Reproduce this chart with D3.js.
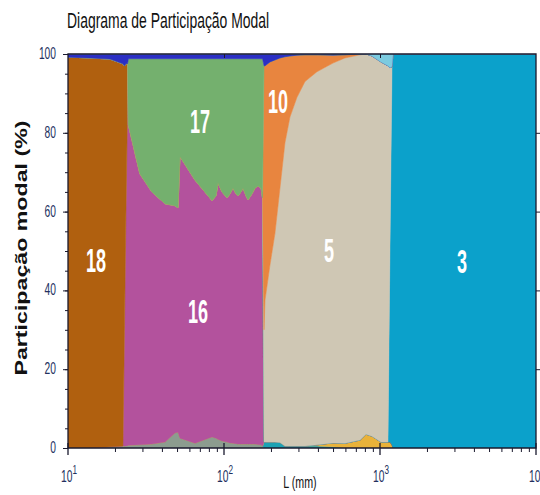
<!DOCTYPE html>
<html>
<head>
<meta charset="utf-8">
<script src="https://cdnjs.cloudflare.com/ajax/libs/d3/7.8.5/d3.min.js"></script>
<style>
  body { margin: 0; background: #fff; }
  svg { display: block; }
</style>
</head>
<body>
<svg id="chart" width="540" height="495"></svg>
<script>
// Comprimento (mm) nos pontos amostrados
const comprimento = [10, 13.8, 18.6, 22.5, 23, 23.5, 24.1, 24.4, 28.9, 34.5,
  41.9, 48.5, 50.7, 52.2, 65.2, 83.8, 88.9, 91.5, 97.1, 104.6,
  109.2, 114.2, 119.4, 122.9, 128.5, 132.4, 138.4, 142.6, 151.1, 158,
  165.2, 172.8, 176.6, 180.5, 183.2, 197.2, 212.2, 228.5, 246, 264.8,
  293.7, 330.6, 394.6, 500, 597, 745, 813, 888, 1014, 1125,
  1159, 1194, 1212, 10000];

// Participação (%) de cada modo, de baixo para cima na pilha
const modoCinza = [0, 0, 0.3, 0.5, 0.5, 0.5, 0.6, 0.7, 0.8, 1,
  1.5, 3.8, 4, 2.5, 1.2, 2.8, 2.5, 2.2, 1.8, 1.5,
  1.3, 1.2, 1.1, 1, 1, 1, 1, 1, 1, 1,
  0.9, 0.8, 0.5, 0, 0, 0, 0, 0, 0, 0,
  0, 0, 0, 0, 0, 0, 0, 0, 0, 0,
  0, 0, 0, 0];
const modoTurquesa = [0, 0, 0, 0, 0, 0, 0, 0, 0, 0,
  0, 0, 0, 0, 0, 0, 0, 0, 0, 0,
  0, 0, 0, 0, 0, 0, 0, 0, 0, 0,
  0, 0, 0, 1.5, 1.5, 1.5, 1.5, 1.4, 0.5, 0.5,
  0.5, 0.5, 0.5, 0.3, 0, 0, 0, 0, 0, 0,
  0, 0, 0, 0];
const modoAmarelo = [0, 0, 0, 0, 0, 0, 0, 0, 0, 0,
  0, 0, 0, 0, 0, 0, 0, 0, 0, 0,
  0, 0, 0, 0, 0, 0, 0, 0, 0, 0,
  0, 0, 0, 0, 0, 0, 0, 0, 0, 0,
  0, 0, 0.3, 1, 1.2, 2, 3.5, 3, 1.5, 1.5,
  1.5, 0.8, 0, 0];
const modo16 = [0, 0, 0, 0, 29, 58, 87, 81.3, 68.8, 64,
  60.5, 57.7, 57, 71.5, 66.8, 60, 61.5, 65.1, 63.2, 62,
  63.2, 64.8, 63.4, 63, 64, 65, 63, 62, 63.5, 65,
  65.6, 65.2, 63, 0, 0, 0, 0, 0, 0, 0,
  0, 0, 0, 0, 0, 0, 0, 0, 0, 0,
  0, 0, 0, 0];
const modo18 = [99.2, 99, 98.4, 97, 67.5, 39, 10, 0, 0, 0,
  0, 0, 0, 0, 0, 0, 0, 0, 0, 0,
  0, 0, 0, 0, 0, 0, 0, 0, 0, 0,
  0, 0, 0, 0, 0, 0, 0, 0, 0, 0,
  0, 0, 0, 0, 0, 0, 0, 0, 0, 0,
  0, 0, 0, 0];
const modo3 = [0, 0, 0, 0, 0, 0, 0, 0, 0, 0,
  0, 0, 0, 0, 0, 0, 0, 0, 0, 0,
  0, 0, 0, 0, 0, 0, 0, 0, 0, 0,
  0, 0, 0, 0, 0, 0, 0, 0, 0, 0,
  0, 0, 0, 0, 0, 0, 0, 0, 0, 0,
  50, 96, 100, 100];
const modo5 = [0, 0, 0, 0, 0, 0, 0, 0, 0, 0,
  0, 0, 0, 0, 0, 0, 0, 0, 0, 0,
  0, 0, 0, 0, 0, 0, 0, 0, 0, 0,
  0, 0, 0, 28.5, 36, 45, 53, 64.6, 77, 83.5,
  88.5, 92.5, 94.7, 96.4, 97.8, 97.8, 96.5, 96.5, 96.5, 95.5,
  45, 0, 0, 0];
const modo10 = [0, 0, 0, 0, 0, 0, 0, 0, 0, 0,
  0, 0, 0, 0, 0, 0, 0, 0, 0, 0,
  0, 0, 0, 0, 0, 0, 0, 0, 0, 0,
  0, 0, 0, 67, 59.5, 51.5, 44, 33, 21.8, 15.5,
  10.7, 6.8, 4.3, 2, 0.8, 0.2, 0, 0, 0, 0,
  0, 0, 0, 0];
const modo17 = [0, 0, 0, 0, 0, 0, 0, 16.8, 29.2, 33.8,
  36.8, 37.3, 37.8, 24.8, 30.8, 36, 34.8, 31.5, 33.8, 35.3,
  34.3, 32.8, 34.3, 34.8, 33.8, 32.8, 34.8, 35.8, 34.3, 32.8,
  32.3, 32.8, 35.3, 0, 0, 0, 0, 0, 0, 0,
  0, 0, 0, 0, 0, 0, 0, 0, 0, 0,
  0, 0, 0, 0];
const modoAzul = [0.8, 1, 1.3, 2.5, 3, 2.5, 2.4, 1.2, 1.2, 1.2,
  1.2, 1.2, 1.2, 1.2, 1.2, 1.2, 1.2, 1.2, 1.2, 1.2,
  1.2, 1.2, 1.2, 1.2, 1.2, 1.2, 1.2, 1.2, 1.2, 1.2,
  1.2, 1.2, 1.2, 3, 3, 2, 1.5, 1, 0.7, 0.5,
  0.3, 0.2, 0.2, 0.3, 0.2, 0, 0, 0, 0, 0,
  0, 0, 0, 0];
const modoCeleste = [0, 0, 0, 0, 0, 0, 0, 0, 0, 0,
  0, 0, 0, 0, 0, 0, 0, 0, 0, 0,
  0, 0, 0, 0, 0, 0, 0, 0, 0, 0,
  0, 0, 0, 0, 0, 0, 0, 0, 0, 0,
  0, 0, 0, 0, 0, 0, 0, 0.5, 2, 3,
  3.5, 3.2, 0, 0];

const modos = ["cinza", "turquesa", "amarelo", "16", "18", "3", "5", "10", "17", "azul", "celeste"];
const valores = [modoCinza, modoTurquesa, modoAmarelo, modo16, modo18, modo3, modo5, modo10, modo17, modoAzul, modoCeleste];
const cores = ["#8c9c8f", "#1ca2b4", "#e9b23a", "#b3529d", "#b0600f", "#0ba1cb",
  "#cfc7b4", "#e8853f", "#74b06e", "#2b2fc4", "#7ccbe0"];

// Rótulos dos modos (centro em L, %)
const rotulos = ["18", "17", "16", "10", "5", "3"];
const rotuloL = [15.1, 70.2, 68.1, 222, 471, 3357];
const rotuloP = [47.7, 82.9, 34.8, 87.9, 50.3, 47.5];

const yTicks = [0, 20, 40, 60, 80, 100];
const decadas = [10, 100, 1000, 10000];
const expoentes = ["1", "2", "3", "4"];

const width = 540;
const height = 495;
const svg = d3.select("#chart");

const fonte = "'Liberation Sans', Arial, sans-serif";

const x = d3.scaleLog().domain([10, 10000]).range([68, 536]);
const y = d3.scaleLinear().domain([0, 100]).range([448, 54]);

// Monta a tabela para o stack
const tabela = comprimento.map((L, i) => {
  const row = { L: L };
  modos.forEach((m, j) => { row[m] = valores[j][i]; });
  return row;
});
const pilha = d3.stack().keys(modos)(tabela);

const area = d3.area()
  .x(d => x(d.data.L))
  .y0(d => y(d[0]))
  .y1(d => y(d[1]));

svg.append("defs").append("clipPath").attr("id", "plot")
  .append("rect")
  .attr("x", x.range()[0]).attr("y", y.range()[1])
  .attr("width", x.range()[1] - x.range()[0])
  .attr("height", y.range()[0] - y.range()[1]);

svg.append("g")
  .attr("clip-path", "url(#plot)")
  .selectAll("path")
  .data(pilha)
  .enter().append("path")
    .attr("d", area)
    .attr("fill", (d, i) => cores[i])
    .attr("stroke", (d, i) => cores[i])
    .attr("stroke-width", 0.5);

// Texto estreito e esticado na vertical (o original está assim)
function texto(g, px, py, s, sx, sy) {
  return g.append("text")
    .attr("transform", `translate(${px},${py}) scale(${sx},${sy})`)
    .text(s);
}

// Rótulos dentro das áreas
const gRot = svg.append("g")
  .attr("font-family", fonte)
  .attr("font-weight", "bold")
  .attr("font-size", 22)
  .attr("fill", "#fff")
  .attr("text-anchor", "middle");
rotulos.forEach((r, i) => {
  texto(gRot, x(rotuloL[i]), y(rotuloP[i]) + 11.8, r, 0.82, 1.5);
});

// Eixos
const axisColor = "#1a1a2e";

// esquerdo
svg.append("g")
  .attr("transform", `translate(${x.range()[0]},0)`)
  .call(d3.axisLeft(y).tickValues(d3.range(0, 101, 5)).tickSize(3).tickFormat(""))
  .call(g => g.select(".domain").remove())
  .call(g => g.selectAll("line").attr("stroke", axisColor));
svg.append("g")
  .attr("transform", `translate(${x.range()[0]},0)`)
  .call(d3.axisLeft(y).tickValues(yTicks).tickSize(5).tickFormat(""))
  .call(g => g.select(".domain").remove())
  .call(g => g.selectAll("line").attr("stroke", axisColor));

// direito
svg.append("g")
  .attr("transform", `translate(${x.range()[1]},0)`)
  .call(d3.axisLeft(y).tickValues(yTicks.slice(1, 5)).tickSize(-4).tickFormat(""))
  .call(g => g.select(".domain").remove())
  .call(g => g.selectAll("line").attr("stroke", axisColor));

// inferior: menores
const menores = [];
decadas.slice(0, 3).forEach(d => { for (let k = 2; k <= 9; k++) menores.push(d * k); });
svg.append("g")
  .attr("transform", `translate(0,${y.range()[0]})`)
  .call(d3.axisBottom(x).tickValues(menores).tickSize(4).tickFormat(""))
  .call(g => g.select(".domain").remove())
  .call(g => g.selectAll("line").attr("stroke", axisColor));
svg.append("g")
  .selectAll("line")
  .data(decadas)
  .enter().append("line")
    .attr("x1", d => x(d)).attr("x2", d => x(d))
    .attr("y1", y.range()[0] - 5).attr("y2", y.range()[0] + 7)
    .attr("stroke", axisColor)
    .attr("stroke-width", 1.3);

// superior
svg.append("g")
  .attr("transform", `translate(0,${y.range()[1]})`)
  .call(d3.axisBottom(x).tickValues(decadas.slice(1, 3)).tickSize(4).tickFormat(""))
  .call(g => g.select(".domain").remove())
  .call(g => g.selectAll("line").attr("stroke", axisColor));

// moldura
const [x0, x1] = x.range();
const [yb, yt] = y.range();
svg.append("path")
  .attr("d", `M${x0},${yb}H${x1}V${yt}H${x0}Z`)
  .attr("fill", "none")
  .attr("stroke", axisColor)
  .attr("stroke-width", 1.3);

// Rótulos dos ticks
const gTick = svg.append("g")
  .attr("font-family", fonte)
  .attr("font-size", 12.5)
  .attr("fill", "#22305e");
yTicks.forEach(v => {
  texto(gTick, 56, y(v) + 5, String(v), 0.82, 1.35).attr("text-anchor", "end");
});
decadas.forEach((d, i) => {
  const t = gTick.append("text")
    .attr("transform", `translate(${x(d) + 1},482) scale(0.82,1.35)`)
    .attr("text-anchor", "middle");
  t.append("tspan").text("10");
  t.append("tspan").attr("dy", -6).attr("font-size", 10).text(expoentes[i]);
});

// Título e eixos
texto(svg, 300, 488, "L (mm)", 0.82, 1.3)
  .attr("font-family", fonte)
  .attr("font-size", 13)
  .attr("fill", "#111")
  .attr("text-anchor", "middle");

texto(svg, 67, 28, "Diagrama de Participação Modal", 0.82, 1.25)
  .attr("font-family", fonte)
  .attr("font-size", 17)
  .attr("fill", "#111");

svg.append("text")
  .attr("transform", "translate(27,248) rotate(-90) scale(1.45,1)")
  .attr("text-anchor", "middle")
  .attr("font-family", fonte)
  .attr("font-weight", "bold")
  .attr("font-size", 16)
  .attr("fill", "#111")
  .text("Participação modal (%)");
</script>
</body>
</html>
